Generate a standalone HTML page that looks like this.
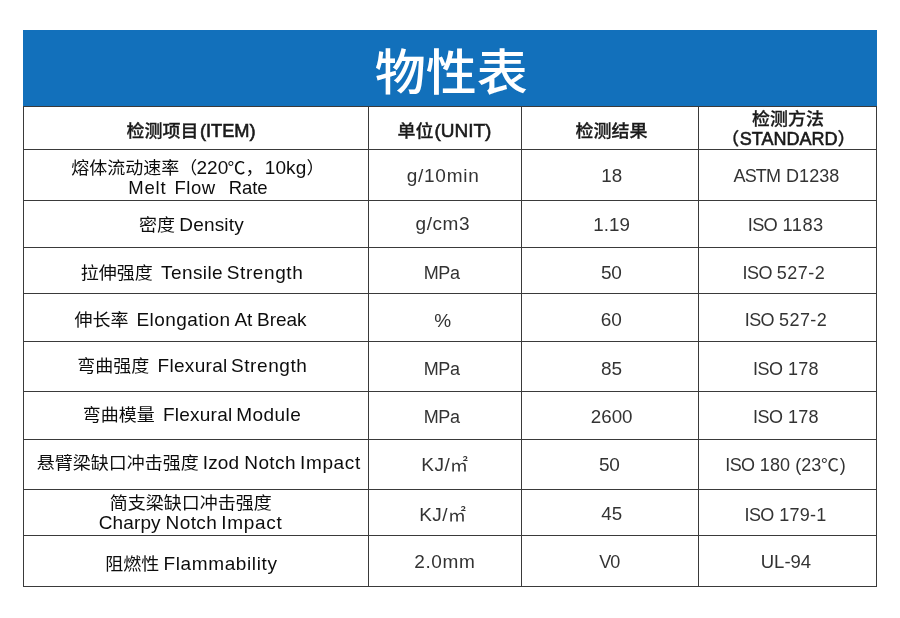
<!DOCTYPE html>
<html lang="zh-CN">
<head>
<meta charset="utf-8">
<title>物性表</title>
<style>
*{margin:0;padding:0;box-sizing:border-box}
html,body{width:900px;height:618px;background:#fff;overflow:hidden}
body{position:relative;font-family:"Liberation Sans","Noto Sans CJK SC",sans-serif;font-size:18px;line-height:24px;color:#333}
.title{position:absolute;left:23px;top:30px;width:854px;height:76px;background:#1270bb;color:#fff}
.title span{position:absolute;white-space:pre;font-size:51px;font-weight:500;line-height:68px;left:351.75px;top:10px;transform:translateY(-0.55px) scaleY(0.968);transform-origin:50% 50%}
.c{position:absolute;border:1px solid #3a3a3a}
.c span{position:absolute;white-space:pre}
.h{font-weight:500;color:#1a1a1a;-webkit-text-stroke:0.3px #1a1a1a}
.h .l{font-weight:400;-webkit-text-stroke:0.6px #1a1a1a}
.k0{color:#0d0d0d}
.c .z{transform:scaleY(0.965);transform-origin:0 19.5px}
</style>
</head>
<body>
<div class="title"><span>物性表</span></div>
<div class="c h" style="left:23px;top:106px;width:346px;height:44px"><span class="z" style="left:102.5px;top:12px">检测项目</span><span class="l" style="left:176px;top:12px;font-size:18.25px;letter-spacing:-0.03px">(ITEM)</span></div>
<div class="c h" style="left:368px;top:106px;width:154px;height:44px"><span class="z" style="left:28.5px;top:12px">单位</span><span class="l" style="left:65.5px;top:12px;font-size:19px;letter-spacing:-0.02px">(UNIT)</span></div>
<div class="c h" style="left:521px;top:106px;width:178px;height:44px"><span class="z" style="left:53.5px;top:12px">检测结果</span></div>
<div class="c h" style="left:698px;top:106px;width:179px;height:44px"><span class="z" style="left:53px;top:0px">检测方法</span><span class="z" style="left:22.25px;top:20px">（</span><span class="l" style="left:40.75px;top:20px">STANDARD</span><span class="z" style="left:138.5px;top:20px">）</span></div>
<div class="c k0" style="left:23px;top:149px;width:346px;height:52px"><span class="z" style="left:47.25px;top:6px">熔体流动速率（</span><span style="left:172.5px;top:6px;font-size:19px">220</span><span class="z" style="left:203.5px;top:6px">℃，</span><span style="left:240.75px;top:6px;font-size:19px;letter-spacing:0.1px">10kg</span><span class="z" style="left:282.5px;top:6px">）</span><span style="left:104.25px;top:26px;font-size:18.5px;letter-spacing:0.83px">Melt  </span><span style="left:150.5px;top:26px;font-size:18.5px;letter-spacing:0.54px">Flow   </span><span style="left:204.75px;top:26px;font-size:18.5px;letter-spacing:-0.08px">Rate</span></div>
<div class="c" style="left:368px;top:149px;width:154px;height:52px"><span style="left:37.75px;top:14px;font-size:19px;letter-spacing:0.73px">g/10min</span></div>
<div class="c" style="left:521px;top:149px;width:178px;height:52px"><span style="left:79.25px;top:14px;font-size:18.75px">18</span></div>
<div class="c" style="left:698px;top:149px;width:179px;height:52px"><span style="left:34.5px;top:14px;letter-spacing:-0.85px">ASTM </span><span style="left:87px;top:14px;letter-spacing:0.08px">D1238</span></div>
<div class="c k0" style="left:23px;top:200px;width:346px;height:48px"><span class="z" style="left:115px;top:12px">密度 </span><span style="left:155.25px;top:12px;font-size:19px;letter-spacing:0.19px">Density</span></div>
<div class="c" style="left:368px;top:200px;width:154px;height:48px"><span style="left:46.5px;top:11px;font-size:19px;letter-spacing:0.56px">g/cm3</span></div>
<div class="c" style="left:521px;top:200px;width:178px;height:48px"><span style="left:71.25px;top:12px;font-size:18.75px;letter-spacing:0.03px">1.19</span></div>
<div class="c" style="left:698px;top:200px;width:179px;height:48px"><span style="left:48.75px;top:12px;font-size:18.25px;letter-spacing:-0.69px">ISO </span><span style="left:83.5px;top:12px;font-size:18.25px;letter-spacing:0.49px">1183</span></div>
<div class="c k0" style="left:23px;top:247px;width:346px;height:47px"><span class="z" style="left:56.75px;top:13px">拉伸强度  </span><span style="left:137px;top:13px;font-size:19px;letter-spacing:0.42px">Tensile </span><span style="left:202.75px;top:13px;font-size:19px;letter-spacing:0.6px">Strength</span></div>
<div class="c" style="left:368px;top:247px;width:154px;height:47px"><span style="left:54.75px;top:13px;letter-spacing:-0.4px">MPa</span></div>
<div class="c" style="left:521px;top:247px;width:178px;height:47px"><span style="left:79px;top:13px;font-size:19px;letter-spacing:-0.25px">50</span></div>
<div class="c" style="left:698px;top:247px;width:179px;height:47px"><span style="left:43.5px;top:13px;letter-spacing:-0.55px">ISO </span><span style="left:77.75px;top:13px;letter-spacing:0.5px">527-2</span></div>
<div class="c k0" style="left:23px;top:293px;width:346px;height:49px"><span class="z" style="left:50.5px;top:14px">伸长率  </span><span style="left:112.5px;top:14px;font-size:19px;letter-spacing:0.42px">Elongation </span><span style="left:210.5px;top:14px;font-size:19px;letter-spacing:-0.16px">At </span><span style="left:233px;top:14px;font-size:19px;letter-spacing:-0.04px">Break</span></div>
<div class="c" style="left:368px;top:293px;width:154px;height:49px"><span style="left:65.25px;top:15px;font-size:19px">%</span></div>
<div class="c" style="left:521px;top:293px;width:178px;height:49px"><span style="left:78.75px;top:14px;font-size:19px">60</span></div>
<div class="c" style="left:698px;top:293px;width:179px;height:49px"><span style="left:45.75px;top:14px;letter-spacing:-0.62px">ISO </span><span style="left:80px;top:14px;letter-spacing:0.44px">527-2</span></div>
<div class="c k0" style="left:23px;top:341px;width:346px;height:51px"><span class="z" style="left:53.25px;top:12px">弯曲强度  </span><span style="left:133.5px;top:12px;font-size:19px;letter-spacing:0.31px">Flexural </span><span style="left:207px;top:12px;font-size:19px;letter-spacing:0.57px">Strength</span></div>
<div class="c" style="left:368px;top:341px;width:154px;height:51px"><span style="left:54.75px;top:15px;letter-spacing:-0.4px">MPa</span></div>
<div class="c" style="left:521px;top:341px;width:178px;height:51px"><span style="left:79px;top:15px;font-size:19px">85</span></div>
<div class="c" style="left:698px;top:341px;width:179px;height:51px"><span style="left:54px;top:15px;letter-spacing:-0.47px">ISO </span><span style="left:89px;top:15px;letter-spacing:0.3px">178</span></div>
<div class="c k0" style="left:23px;top:391px;width:346px;height:49px"><span class="z" style="left:58.75px;top:11px">弯曲模量  </span><span style="left:139px;top:11px;font-size:19px;letter-spacing:0.23px">Flexural </span><span style="left:212.25px;top:11px;font-size:19px;letter-spacing:0.44px">Module</span></div>
<div class="c" style="left:368px;top:391px;width:154px;height:49px"><span style="left:54.75px;top:13px;letter-spacing:-0.4px">MPa</span></div>
<div class="c" style="left:521px;top:391px;width:178px;height:49px"><span style="left:68.75px;top:13px;font-size:18.75px;letter-spacing:0.03px">2600</span></div>
<div class="c" style="left:698px;top:391px;width:179px;height:49px"><span style="left:54px;top:13px;letter-spacing:-0.47px">ISO </span><span style="left:89px;top:13px;letter-spacing:0.3px">178</span></div>
<div class="c k0" style="left:23px;top:439px;width:346px;height:51px"><span class="z" style="left:12.75px;top:11px">悬臂梁缺口冲击强度 </span><span style="left:178.75px;top:11px;font-size:19px;letter-spacing:0.13px">Izod </span><span style="left:220.25px;top:11px;font-size:19px;letter-spacing:0.41px">Notch </span><span style="left:276px;top:11px;font-size:19px;letter-spacing:0.65px">Impact</span></div>
<div class="c" style="left:368px;top:439px;width:154px;height:51px"><span style="left:52.25px;top:13px;font-size:19px;letter-spacing:0.5px">KJ/</span><span class="z" style="left:81px;top:13px">㎡</span></div>
<div class="c" style="left:521px;top:439px;width:178px;height:51px"><span style="left:77px;top:13px;font-size:19px;letter-spacing:-0.25px">50</span></div>
<div class="c" style="left:698px;top:439px;width:179px;height:51px"><span style="left:26.25px;top:13px;letter-spacing:-0.6px">ISO </span><span style="left:60.75px;top:13px;letter-spacing:0.17px">180 </span><span style="left:96.25px;top:13px;letter-spacing:-0.02px">(23</span><span class="z" style="left:122px;top:13px">℃</span><span style="left:140.75px;top:13px">)</span></div>
<div class="c k0" style="left:23px;top:489px;width:346px;height:47px"><span class="z" style="left:85.75px;top:1px">简支梁缺口冲击强度</span><span style="left:74.75px;top:21px;font-size:19px;letter-spacing:0.12px">Charpy </span><span style="left:141.5px;top:21px;font-size:19px;letter-spacing:0.42px">Notch </span><span style="left:197.25px;top:21px;font-size:19px;letter-spacing:0.71px">Impact</span></div>
<div class="c" style="left:368px;top:489px;width:154px;height:47px"><span style="left:50.25px;top:13px;font-size:19px;letter-spacing:0.4px">KJ/</span><span class="z" style="left:79px;top:13px">㎡</span></div>
<div class="c" style="left:521px;top:489px;width:178px;height:47px"><span style="left:79.25px;top:12px;font-size:18.75px">45</span></div>
<div class="c" style="left:698px;top:489px;width:179px;height:47px"><span style="left:45.5px;top:13px;letter-spacing:-0.58px">ISO </span><span style="left:80.25px;top:13px;letter-spacing:0.22px">179-1</span></div>
<div class="c k0" style="left:23px;top:535px;width:346px;height:52px"><span class="z" style="left:81.25px;top:16px">阻燃性 </span><span style="left:139.5px;top:16px;font-size:19px;letter-spacing:0.62px">Flammability</span></div>
<div class="c" style="left:368px;top:535px;width:154px;height:52px"><span style="left:45.25px;top:14px;font-size:19px;letter-spacing:0.61px">2.0mm</span></div>
<div class="c" style="left:521px;top:535px;width:178px;height:52px"><span style="left:77.25px;top:14px;letter-spacing:-0.9px">V0</span></div>
<div class="c" style="left:698px;top:535px;width:179px;height:52px"><span style="left:61.75px;top:14px;font-size:18.5px;letter-spacing:-0.01px">UL-94</span></div>
</body>
</html>
